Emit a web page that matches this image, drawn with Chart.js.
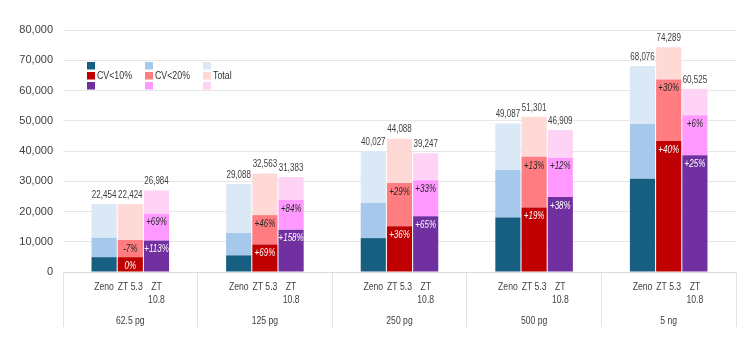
<!DOCTYPE html>
<html><head><meta charset="utf-8">
<script src="https://cdn.jsdelivr.net/npm/chart.js@4"></script>
<style>html,body{margin:0;padding:0;background:#fff}#wrap{width:750px;height:352px;position:relative}</style>
</head><body><div id="wrap"><canvas id="c"></canvas></div>
<script>
// ---- data ----
const categories = ["62.5 pg", "125 pg", "250 pg", "500 pg", "5 ng"];
const instrumentLines = [["Zeno"], ["ZT 5.3"], ["ZT", "10.8"]];
const levelNames = ["CV<10%", "CV<20%", "Total"];

const zenoCV10  = [4900, 5500, 11200, 18000, 30800];
const zenoCV20  = [11300, 12900, 22800, 33700, 48900];
const zenoTotal = [22454, 29088, 40027, 49087, 68076];

const zt53CV10  = [4900, 9100, 15100, 21300, 43300];
const zt53CV20  = [10600, 18800, 29400, 38100, 63600];
const zt53Total = [22424, 32563, 44088, 51301, 74289];

const zt108CV10  = [10400, 14000, 18400, 24800, 38600];
const zt108CV20  = [19300, 23800, 30300, 37800, 51800];
const zt108Total = [26984, 31383, 39247, 46909, 60525];

const zt53CV10Pct  = ["0%", "+69%", "+36%", "+19%", "+40%"];
const zt53CV20Pct  = ["-7%", "+46%", "+29%", "+13%", "+30%"];
const zt108CV10Pct = ["+113%", "+158%", "+65%", "+38%", "+25%"];
const zt108CV20Pct = ["+69%", "+84%", "+33%", "+12%", "+6%"];

const yMax = 80000, yStep = 10000;

// ---- styling ----
const colors = [
  ["#175f80", "#a6c8ea", "#dbe8f5"],
  ["#c00000", "#ff7c80", "#ffd9d5"],
  ["#7030a0", "#ff99ff", "#ffd3f5"]
];
const SANS = '"Liberation Sans", Arial, sans-serif';

const instData = [
  [zenoCV10, zenoCV20, zenoTotal],
  [zt53CV10, zt53CV20, zt53Total],
  [zt108CV10, zt108CV20, zt108Total]
];
const pctData = [null, [zt53CV10Pct, zt53CV20Pct], [zt108CV10Pct, zt108CV20Pct]];

const datasets = [];
instData.forEach((lv, i) => {
  const seg = [
    lv[0].slice(),
    lv[1].map((v, k) => v - lv[0][k]),
    lv[2].map((v, k) => v - lv[1][k])
  ];
  seg.forEach((d, s) => {
    datasets.push({
      label: levelNames[s], data: d, stack: "s" + i,
      backgroundColor: colors[i][s], borderWidth: 0,
      categoryPercentage: 0.584, barPercentage: 0.96,
      _inst: i, _lvl: s
    });
  });
});

// condensed text: real text drawn with a horizontal squeeze
function narrowText(ctx, text, x, y, font, color, sx, align) {
  ctx.save();
  ctx.font = font;
  ctx.fillStyle = color;
  ctx.textAlign = align || "center";
  ctx.textBaseline = "middle";
  ctx.translate(x, y);
  ctx.scale(sx, 1);
  ctx.fillText(text, 0, 0);
  ctx.restore();
}

const labelPlugin = {
  id: "labels",
  afterDatasetsDraw(chart) {
    const ctx = chart.ctx;
    chart.data.datasets.forEach((ds, di) => {
      const meta = chart.getDatasetMeta(di);
      meta.data.forEach((el, j) => {
        if (ds._lvl === 2) {
          narrowText(ctx, instData[ds._inst][2][j].toLocaleString("en-US"), el.x, el.y - 9,
            "10px " + SANS, "#404040", 0.8);
        } else if (pctData[ds._inst]) {
          narrowText(ctx, pctData[ds._inst][ds._lvl][j], el.x, el.y + 9,
            "italic 10px " + SANS, ds._lvl === 0 ? "#ffffff" : "#262626", 0.8);
        }
      });
    });
    // bar names below the axis
    for (let i = 0; i < 3; i++) {
      const meta = chart.getDatasetMeta(i * 3);
      meta.data.forEach(el => {
        instrumentLines[i].forEach((t, li) => {
          narrowText(ctx, t, el.x, chart.chartArea.bottom + 15 + li * 13.5,
            "10.5px " + SANS, "#404040", 0.82);
        });
      });
    }
    // group names
    chart.scales.x.ticks.forEach((t, k) => {
      narrowText(ctx, categories[k], chart.scales.x.getPixelForTick(k), chart.chartArea.bottom + 49.5,
        "10.5px " + SANS, "#404040", 0.82);
    });
  },
  afterDraw(chart) {
    // legend: 3 columns (levels) x 3 rows (instruments)
    const ctx = chart.ctx;
    const colX = [87, 145, 203];
    const rowY = [62, 72, 82];
    for (let s = 0; s < 3; s++) {
      for (let i = 0; i < 3; i++) {
        ctx.fillStyle = colors[i][s];
        ctx.fillRect(colX[s], rowY[i], 8, 7.5);
      }
      narrowText(ctx, levelNames[s], colX[s] + 10, rowY[1] + 4, "11px " + SANS, "#333333", 0.8, "left");
    }
  }
};

new Chart(document.getElementById("c"), {
  type: "bar",
  data: { labels: categories, datasets },
  plugins: [labelPlugin],
  options: {
    responsive: true, maintainAspectRatio: false, animation: false,
    layout: { padding: { top: 30, right: 14, left: 0, bottom: 0 } },
    plugins: { legend: { display: false }, tooltip: { enabled: false } },
    scales: {
      x: {
        stacked: true,
        grid: { offset: true, drawOnChartArea: false, drawTicks: true, tickLength: 55, color: "#e3e3e3" },
        border: { display: true, color: "#d9d9d9" },
        ticks: { display: false },
        afterFit(s) { s.height = 80; }
      },
      y: {
        stacked: true, min: 0, max: yMax,
        grid: { color: "#e6e6e6", drawTicks: false },
        border: { display: false },
        ticks: {
          stepSize: yStep, padding: 10, color: "#404040",
          font: { size: 11, family: SANS },
          callback: v => v.toLocaleString("en-US")
        },
        afterFit(s) { s.width = 63; }
      }
    }
  }
});
</script></body></html>
